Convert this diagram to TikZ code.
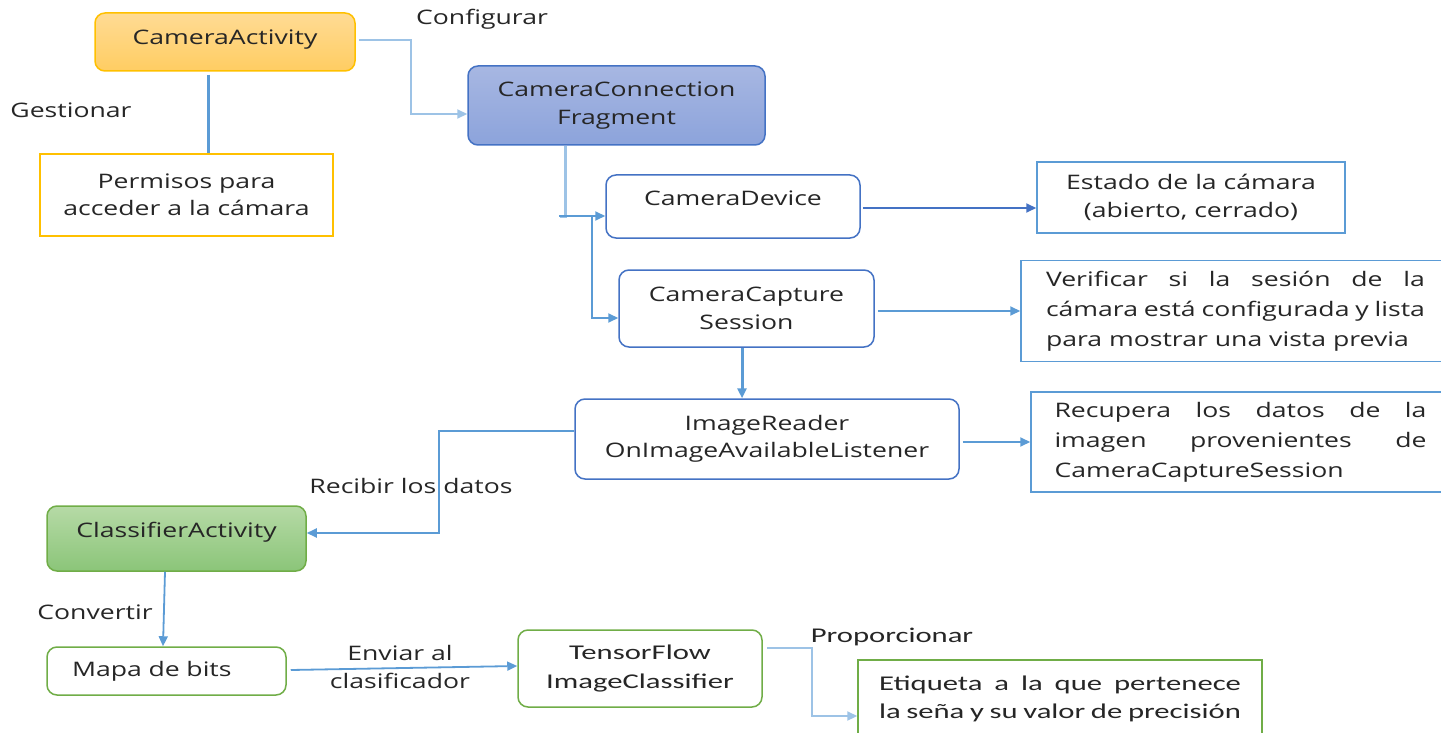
\documentclass[tikz,border=0pt]{standalone}
\usepackage{fontspec}
\setmainfont{Open Sans}[FakeStretch=1.33]
\newfontfamily\calfont{Carlito}[FakeStretch=1.46]
\usetikzlibrary{arrows.meta}

\definecolor{lineblue}{HTML}{5B9BD5}
\definecolor{paleblue}{HTML}{9DC3E6}
\definecolor{darkblue}{HTML}{4472C4}
\definecolor{gold}{HTML}{FFC000}
\definecolor{leaf}{HTML}{70AD47}
\definecolor{txt}{HTML}{262626}
\definecolor{orangetop}{HTML}{FFDB94}
\definecolor{orangebot}{HTML}{FFCD62}
\definecolor{bluetop}{HTML}{A7B7E2}
\definecolor{bluebot}{HTML}{8CA3DB}
\definecolor{greentop}{HTML}{B6DAA6}
\definecolor{greenbot}{HTML}{8BC579}

\begin{document}
\begin{tikzpicture}[x=1pt,y=-1pt,
  every node/.style={text=txt, font=\fontsize{20}{27.5}\selectfont},
  calibri/.style={font=\calfont\fontsize{21}{28.5}\selectfont},
  loose/.style={font=\fontsize{20}{30}\selectfont},
  rbox/.style={draw, rounded corners=10pt, line width=1.5pt, align=center, inner sep=0pt},
  sbox/.style={draw, line width=1.5pt, align=center, inner sep=0pt},
  conn/.style={draw=lineblue, line width=1.8pt},
  paleconn/.style={draw=paleblue, line width=2.2pt},
  tip/.style={-{Triangle[length=10pt,width=9pt]}},
]
\useasboundingbox (0,0) rectangle (1441,733);

% --- boxes ---
\node[rbox, draw=gold, top color=orangetop, bottom color=orangebot,
      minimum width=260pt, minimum height=58pt, text height=14pt, text depth=9pt]
  (camact) at (225,42) {CameraActivity};
\node[sbox, draw=gold, fill=white, minimum width=293pt, minimum height=82pt]
  (perm) at (186.5,195) {Permisos para\\acceder a la cámara};
\node[rbox, draw=darkblue, top color=bluetop, bottom color=bluebot,
      minimum width=297pt, minimum height=79pt]
  (ccf) at (616.5,105.5) {CameraConnection\\Fragment};
\node[rbox, draw=darkblue, fill=white, minimum width=254pt, minimum height=63pt,
      text height=14pt, text depth=16pt]
  (cdev) at (733,206.5) {CameraDevice};
\node[sbox, draw=lineblue, fill=white, minimum width=308pt, minimum height=71pt]
  (estado) at (1191,197.5) {Estado de la cámara\\(abierto, cerrado)};
\node[rbox, draw=darkblue, fill=white, minimum width=255pt, minimum height=77pt]
  (ccs) at (746.5,308.5) {CameraCapture\\Session};
\node[sbox, draw=lineblue, fill=white, minimum width=429pt, minimum height=101pt,
      align=left, loose]
  (verif) at (1235.5,311) {\makebox[379pt][s]{Verificar si la sesión de la}\\
    \makebox[379pt][s]{cámara está configurada y lista}\\
    para mostrar una vista previa\hspace*{14pt}};
\node[rbox, draw=darkblue, fill=white, minimum width=384pt, minimum height=80pt]
  (irdr) at (767,439) {ImageReader\\OnImageAvailableListener};
\node[sbox, draw=lineblue, fill=white, minimum width=419pt, minimum height=100pt,
      align=left, loose]
  (recup) at (1240.5,442) {\makebox[372pt][s]{Recupera los datos de la}\\
    \makebox[372pt][s]{imagen provenientes de}\\
    \makebox[372pt][l]{CameraCaptureSession}};
\node[rbox, draw=leaf, top color=greentop, bottom color=greenbot,
      minimum width=259pt, minimum height=65pt, text height=14pt, text depth=16pt]
  (cls) at (176.5,538.5) {ClassifierActivity};
\node[rbox, draw=leaf, fill=white, minimum width=239pt, minimum height=48pt,
      text width=189pt, align=left]
  (mapa) at (166.5,671) {Mapa de bits};
\node[rbox, draw=leaf, fill=white, minimum width=244pt, minimum height=77pt, calibri]
  (tf) at (640,668.5) {TensorFlow\\ImageClassifier};
\node[sbox, draw=leaf, fill=white, minimum width=404pt, minimum height=78pt, calibri, align=left]
  (etiq) at (1060,699) {\makebox[362pt][s]{Etiqueta a la que pertenece}\\
    \makebox[362pt][s]{la seña y su valor de precisión}};

% --- connector labels ---
\node (gest) at (71,110) {Gestionar};
\node (conf) at (482,19) {Configurar};
\node (recib) at (411,486) {Recibir los datos};
\node (conv) at (95,612) {Convertir};
\node[align=center] (env) at (400,667) {Enviar al\\clasificador};
\node[calibri] (prop) at (892,637) {Proporcionar};

% --- connectors ---
\draw[conn, line width=3pt] ([xshift=-17pt,yshift=-3pt]camact.south)
  -- ([xshift=-17pt]camact.south |- perm.north);
\draw[paleconn, tip] ([xshift=3pt,yshift=2pt]camact.east) -- ++(52,0)
  |- ([yshift=-8.5pt]ccf.west);
\draw[paleconn, line width=3pt] ([xshift=-51.5pt]ccf.south) -- ++(0,71) -- ++(-5,0);
\coordinate (fork) at ([xshift=-46pt,yshift=-9.5pt]cdev.west);
\draw[conn, tip] (fork) -- ([yshift=-9.5pt]cdev.west);
\draw[conn, tip] ([xshift=-13pt,yshift=-9.5pt]cdev.west) |- ([yshift=-9.5pt]ccs.west);
\draw[draw=darkblue, line width=1.8pt, tip] ([xshift=2pt,yshift=-1.5pt]cdev.east)
  -- ([yshift=-1.5pt]cdev.east -| estado.west);
\draw[conn, tip] ([xshift=3pt,yshift=-2.5pt]ccs.east) -- ([yshift=-2.5pt]ccs.east -| verif.west);
\draw[conn, line width=3pt, tip] ([xshift=-4.5pt]ccs.south) -- ([xshift=-4.5pt]ccs.south |- irdr.north);
\draw[conn, tip] ([xshift=3pt,yshift=-3pt]irdr.east) -- ([yshift=-3pt]irdr.east -| recup.west);
\draw[conn, tip] ([yshift=8pt]irdr.west) -- ++(-135,0) |- ([yshift=5.5pt]cls.east);
\draw[conn, tip] ([xshift=-11.5pt]cls.south) -- ([xshift=-3.5pt]mapa.north);
\draw[conn, tip] ([xshift=4pt,yshift=1pt]mapa.east) -- ([yshift=2.5pt]tf.west);
\draw[paleconn, tip] ([xshift=4pt,yshift=20.5pt]tf.east) -- ++(45,0) |- ([yshift=-17pt]etiq.west);
\end{tikzpicture}
\end{document}
